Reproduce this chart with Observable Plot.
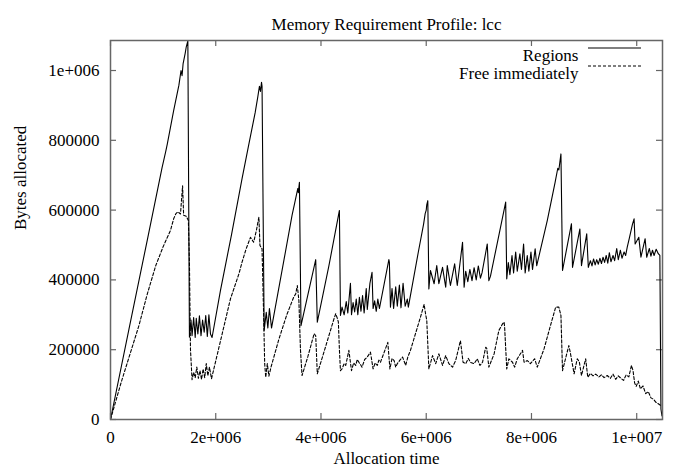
<!DOCTYPE html>
<html><head><meta charset="utf-8">
<script src="https://cdn.jsdelivr.net/npm/d3@7"></script>
<script src="https://cdn.jsdelivr.net/npm/@observablehq/plot@0.6"></script>
<style>
body{margin:0;background:#fff}
svg{display:block}
</style>
</head><body><div id="chart"></div>
<script>
const titleText = "Memory Requirement Profile: lcc";
const xLabel = "Allocation time";
const yLabel = "Bytes allocated";
const seriesNames = ["Regions", "Free immediately"];
const xTicks = [0, 2e6, 4e6, 6e6, 8e6, 1e7];
const xTickLabels = ["0", "2e+006", "4e+006", "6e+006", "8e+006", "1e+007"];
const yTicks = [0, 2e5, 4e5, 6e5, 8e5, 1e6];
const yTickLabels = ["0", "200000", "400000", "600000", "800000", "1e+006"];

// [allocation time in millions, bytes in thousands]
const regions = [[0,0],[0.35,258],[0.7,515],[0.98,722],[1.02,748],[1.05,768],[1.08,790],[1.2,885],[1.3,958],[1.34,1000],[1.36,985],[1.38,1020],[1.42,1050],[1.44,1068],[1.47,1085],
[1.50,236],[1.53,285],[1.55,240],[1.58,292],[1.61,235],[1.63,290],[1.66,245],[1.69,297],[1.72,240],[1.75,285],[1.78,250],[1.81,298],[1.84,238],[1.87,300],[1.90,245],[1.93,235],
[2.09,370],[2.3,530],[2.5,690],[2.62,782],[2.75,880],[2.8,925],[2.83,955],[2.85,940],[2.87,966],[2.88,955],
[2.92,255],[2.96,307],[2.99,262],[3.02,318],[3.06,262],
[3.3,460],[3.45,585],[3.5,620],[3.56,662],[3.57,650],[3.59,680],
[3.62,269],[3.90,458],[3.93,279],[4.15,440],[4.35,599],[4.37,298],
[4.40,322],[4.44,300],[4.48,338],[4.51,305],[4.56,390],[4.58,300],[4.61,335],[4.64,308],[4.67,345],[4.70,300],[4.73,350],[4.76,310],[4.79,355],[4.82,305],[4.86,375],[4.88,315],[4.93,390],[4.97,422],[4.99,318],[5.02,340],[5.05,310],[5.08,345],[5.11,318],
[5.29,458],[5.30,450],[5.32,322],
[5.35,375],[5.38,318],[5.42,380],[5.45,325],[5.49,385],[5.52,320],[5.56,390],[5.60,325],[5.64,345],[5.66,322],
[5.85,480],[5.95,560],[5.98,590],[6.0,600],[6.01,615],[6.03,627],
[6.05,374],[6.08,427],[6.15,389],[6.20,441],[6.24,389],[6.31,436],[6.37,379],[6.40,441],[6.46,384],[6.54,446],[6.59,384],[6.69,508],[6.72,379],
[6.75,425],[6.79,395],[6.83,430],[6.87,398],[6.91,435],[6.95,400],[6.99,440],[7.03,405],[7.06,420],[7.16,503],[7.19,398],[7.22,410],
[7.51,623],[7.53,403],
[7.56,450],[7.59,415],[7.63,470],[7.66,420],[7.70,480],[7.73,425],[7.78,475],[7.81,430],[7.85,503],[7.88,420],[7.92,470],[7.95,425],[7.99,480],[8.02,430],[8.07,489],[8.10,441],
[8.3,570],[8.45,680],[8.5,720],[8.52,715],[8.56,761],[8.59,427],
[8.76,561],[8.78,436],[8.92,546],[8.95,441],[9.05,532],[9.08,436],
[9.12,455],[9.15,440],[9.18,460],[9.21,443],[9.24,458],[9.27,445],[9.30,462],[9.33,447],[9.36,465],[9.39,450],[9.42,470],[9.45,448],[9.48,478],[9.51,452],[9.55,470],[9.58,455],[9.62,490],[9.65,458],[9.69,485],[9.72,462],[9.76,480],[9.79,470],[9.82,494],[9.86,520],[9.92,560],[9.95,575],[9.97,503],[10.04,522],[10.08,465],[10.16,518],[10.19,465],[10.24,490],[10.27,468],[10.30,485],[10.33,470],[10.37,488],[10.41,475],[10.44,470],[10.46,30],[10.48,10]];

const freeImmediately = [[0,0],[0.2,105],[0.54,269],[0.7,360],[0.86,441],[1.0,495],[1.14,542],[1.2,575],[1.24,589],[1.28,595],[1.33,589],[1.35,630],[1.37,670],[1.39,585],[1.44,582],[1.48,570],[1.50,450],[1.52,200],[1.55,114],[1.58,135],[1.61,120],[1.64,150],[1.67,118],[1.70,140],[1.73,115],[1.76,145],[1.79,120],[1.82,160],[1.85,125],[1.88,150],[1.92,117],
[2.09,225],[2.28,346],[2.44,417],[2.50,451],[2.58,490],[2.66,522],[2.72,508],[2.77,540],[2.82,580],[2.84,499],[2.88,489],[2.91,300],[2.93,160],[2.95,121],[2.98,160],[3.01,124],[3.05,150],
[3.2,230],[3.35,300],[3.48,350],[3.52,360],[3.55,384],[3.58,341],[3.61,200],[3.64,126],
[3.75,180],[3.87,246],[3.90,240],[3.93,131],
[4.05,190],[4.18,255],[4.25,290],[4.28,303],[4.31,290],[4.33,280],[4.35,200],[4.37,140],
[4.40,145],[4.44,160],[4.47,155],[4.53,198],[4.58,140],[4.62,162],[4.66,155],[4.69,172],[4.72,164],[4.75,158],[4.78,150],[4.83,172],[4.88,179],[4.94,193],[4.99,145],[5.03,162],[5.07,155],[5.10,170],[5.13,164],[5.27,221],[5.31,145],[5.35,175],[5.39,169],[5.42,150],[5.45,160],[5.50,170],[5.55,179],[5.61,155],[5.65,179],[5.70,198],[5.89,293],[5.96,330],[5.99,300],[6.01,285],[6.05,145],
[6.12,183],[6.18,160],[6.24,188],[6.31,155],[6.37,183],[6.43,160],[6.50,150],[6.56,169],[6.65,226],[6.70,164],[6.75,160],[6.80,175],[6.84,164],[6.91,160],[6.97,174],[7.02,155],[7.07,164],[7.13,207],[7.15,204],[7.19,150],[7.29,188],[7.38,255],[7.45,274],[7.48,279],[7.49,265],[7.53,145],
[7.57,174],[7.64,164],[7.68,150],[7.73,174],[7.83,198],[7.86,164],[7.92,169],[7.98,160],[8.06,174],[8.11,150],[8.24,203],[8.37,274],[8.46,322],[8.52,322],[8.56,298],[8.59,140],
[8.71,212],[8.74,190],[8.81,131],[8.87,174],[8.91,165],[8.95,126],[9.03,174],[9.07,121],[9.12,132],[9.17,125],[9.22,130],[9.28,122],[9.33,128],[9.38,120],[9.44,126],[9.50,118],[9.55,130],[9.60,115],[9.65,125],[9.70,118],[9.75,112],[9.80,128],[9.85,122],[9.90,155],[9.93,140],[9.96,105],[9.99,95],[10.03,110],[10.07,88],[10.12,96],[10.17,74],[10.22,80],[10.27,62],[10.32,58],[10.36,50],[10.41,45],[10.46,40]];

const toRows = (arr) => arr.map(([t, b]) => ({x: t * 1e6, y: b * 1e3}));
const regionRows = toRows(regions);
const freeRows = toRows(freeImmediately);

const W = 673, H = 472, mL = 110, mR = 11, mT = 40, mB = 53;
const frameW = W - mL - mR, frameH = H - mT - mB;
const tickLen = 6;
const axisColor = "#666";
const font = "Liberation Serif, DejaVu Serif, serif";
const fs = 17;

const plot = Plot.plot({
  width: W, height: H,
  marginLeft: mL, marginRight: mR, marginTop: mT, marginBottom: mB,
  style: {fontSize: fs + "px", background: "#fff", color: "#000", overflow: "visible"},
  x: {domain: [0, 10.49e6], label: null},
  y: {domain: [0, 1.086e6], label: null},
  marks: [
    Plot.axisX({ticks: xTicks, tickFormat: (d) => xTickLabels[xTicks.indexOf(d)], tickSize: 0, tickPadding: 11, fontSize: fs, label: null}),
    Plot.axisY({ticks: yTicks, tickFormat: (d) => yTickLabels[yTicks.indexOf(d)], tickSize: 0, tickPadding: 11, fontSize: fs, label: null}),
    Plot.tickY(yTicks, {y: d => d, insetRight: frameW - tickLen, stroke: axisColor, strokeWidth: 1.2}),
    Plot.tickY(yTicks, {y: d => d, insetLeft: frameW - tickLen, stroke: axisColor, strokeWidth: 1.2}),
    Plot.tickX(xTicks, {x: d => d, insetTop: frameH - tickLen, stroke: axisColor, strokeWidth: 1.2}),
    Plot.tickX(xTicks, {x: d => d, insetBottom: frameH - tickLen, stroke: axisColor, strokeWidth: 1.2}),
    Plot.line(freeRows, {x: "x", y: "y", stroke: "#000", strokeWidth: 1.1, strokeDasharray: "3,2"}),
    Plot.line(regionRows, {x: "x", y: "y", stroke: "#000", strokeWidth: 1.1}),
    Plot.frame({stroke: axisColor, strokeWidth: 1.5}),
    Plot.text([titleText], {frameAnchor: "top", dy: -23, fontSize: fs, fill: "#000"}),
    Plot.text([xLabel], {frameAnchor: "bottom", dy: 44, fontSize: fs, fill: "#000"}),
    Plot.text([yLabel], {frameAnchor: "left", dx: -90, rotate: -90, fontSize: fs, fill: "#000"}),
    Plot.text([seriesNames[0]], {frameAnchor: "top-right", dx: -84, dy: 8, textAnchor: "end", fontSize: fs, fill: "#000"}),
    Plot.text([seriesNames[1]], {frameAnchor: "top-right", dx: -84, dy: 26, textAnchor: "end", fontSize: fs, fill: "#000"})
  ]
});
document.getElementById("chart").appendChild(plot);

const svg = d3.select(plot);
svg.style("font-family", font);
svg.selectAll("g, text").attr("font-family", font).style("font-family", font);

// legend line samples, placed relative to the frame corner
const lx1 = W - mR - 74, lx2 = W - mR - 21;
svg.append("line").attr("x1", lx1).attr("x2", lx2).attr("y1", mT + 8).attr("y2", mT + 8)
  .attr("stroke", "#000").attr("stroke-width", 1.1);
svg.append("line").attr("x1", lx1).attr("x2", lx2).attr("y1", mT + 26).attr("y2", mT + 26)
  .attr("stroke", "#000").attr("stroke-width", 1.1).attr("stroke-dasharray", "3,2");
</script>
</body></html>
